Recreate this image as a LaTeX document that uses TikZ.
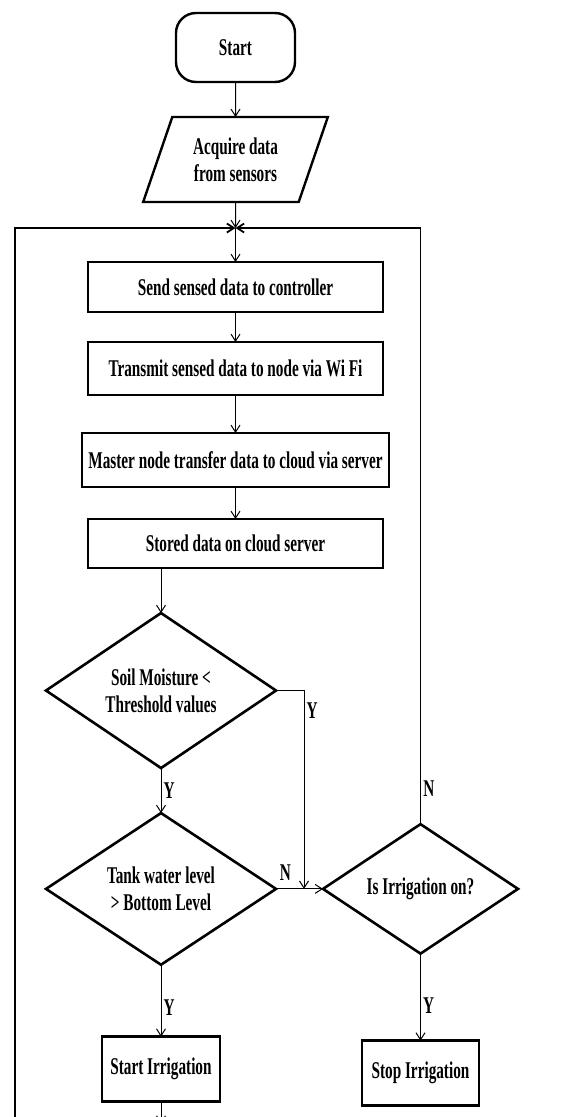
\documentclass[tikz,border=0pt]{standalone}
\usepackage{fontspec}
\setmainfont{Liberation Serif}[FakeStretch=0.635]
\usepackage{tikz}
\usetikzlibrary{arrows.meta, positioning, shapes.geometric}

\begin{document}
\begin{tikzpicture}[
    x=1pt, y=1pt,
    font=\bfseries\fontsize{24}{27}\selectfont,
    terminal/.style={rectangle, draw, line width=2.4pt, rounded corners=20pt,
                     minimum width=119pt, minimum height=69pt, inner sep=0pt, outer sep=0pt},
    io/.style={trapezium, draw, line width=2.4pt, trapezium left angle=66,
               trapezium right angle=114, trapezium stretches=true,
               minimum width=185pt, minimum height=85pt, inner sep=0pt, outer sep=0pt,
               align=center},
    stepbox/.style={rectangle, draw, line width=2.6pt, minimum width=295pt,
                    minimum height=50pt, inner sep=0pt, outer sep=0pt, align=center},
    decision/.style={diamond, draw, line width=2.6pt, minimum width=230pt,
                     minimum height=150pt, inner sep=0pt, outer sep=0pt, align=center},
    lbl/.style={inner sep=2pt},
    arrow/.style={-{Straight Barb[length=7pt, width=9pt]}, line width=1pt},
    loopline/.style={line width=1.8pt}
]
  \useasboundingbox (0,0) rectangle (569,-1117);

  \node[terminal] (start) at (235.5,-47.5) {Start};

  \node[io, below=35pt of start] (acquire) {Acquire data\\from sensors};

  \coordinate[below=26pt of acquire.south] (join);

  \node[stepbox, below=34pt of join] (send) {Send sensed data to controller};

  \node[stepbox, below=30pt of send, minimum height=53pt] (transmit)
    {Transmit sensed data to node via Wi Fi};

  \node[stepbox, below=38pt of transmit, minimum width=307pt, minimum height=54pt] (master)
    {Master node transfer data to cloud via server};

  \node[stepbox, below=32pt of master, minimum height=49pt] (stored)
    {Stored data on cloud server};

  \node[decision, below=45pt of stored, xshift=-74.5pt] (soil)
    {Soil Moisture <\\Threshold values};

  \node[decision, below=45pt of soil] (tank)
    {Tank water level\\> Bottom Level};

  \node[decision, right=47pt of tank, minimum width=195pt, minimum height=124pt] (irrig)
    {Is Irrigation on?};

  \node[stepbox, below=72pt of tank, minimum width=118pt, minimum height=65pt] (startirr)
    {Start Irrigation};

  \node[stepbox, below=87pt of irrig, minimum width=117pt, minimum height=65pt] (stopirr)
    {Stop Irrigation};

  % loop ends and merge point
  \coordinate[right=28pt of tank.east] (merge);
  \coordinate[below=22pt of startirr.south] (next);
  \coordinate (back) at (15,-1117);

  \draw[arrow] (start) -- (acquire);
  \draw[arrow] (acquire) -- (join);
  \draw[arrow] (join) -- (send);
  \draw[arrow] (send) -- (transmit);
  \draw[arrow] (transmit) -- (master);
  \draw[arrow] (master) -- (stored);
  \draw[arrow] (stored.south -| soil.north) -- (soil.north);
  \draw[arrow] (soil) -- node[lbl, right, pos=0.5] (y1) {Y} (tank);
  \draw[arrow] (soil.east) -| node[lbl, right, pos=0.55] (y2) {Y} (merge);
  \draw[arrow] (tank.east) -- node[lbl, above=6pt, pos=0.2] (n1) {N} (irrig.west);
  \draw[arrow] (tank) -- node[lbl, right, pos=0.6] (y3) {Y} (startirr);
  \draw[arrow] (irrig) -- node[lbl, right, pos=0.6] (y4) {Y} (stopirr);
  \draw[arrow] (startirr) -- (next);
  \draw[arrow, loopline] (irrig.north) |- node[lbl, right, pos=0.03] (n2) {N} (join);
  \draw[arrow, loopline] (back) |- (join);
\end{tikzpicture}
\end{document}
